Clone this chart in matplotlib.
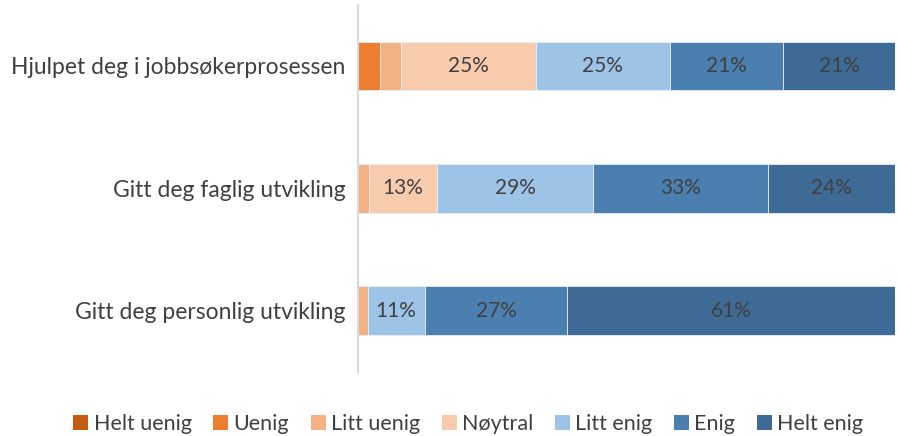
import numpy as np
import matplotlib.pyplot as plt
from matplotlib.patches import Patch

plt.rcParams['font.family'] = ['Lato', 'DejaVu Sans']

categories = ['Hjulpet deg i jobbsøkerprosessen',
              'Gitt deg faglig utvikling',
              'Gitt deg personlig utvikling']
levels = ['Helt uenig', 'Uenig', 'Litt uenig', 'Nøytral', 'Litt enig', 'Enig', 'Helt enig']
colors = ['#C55A11', '#ED7D31', '#F4B183', '#F8CBAD', '#9DC3E6', '#4A7FB0', '#3D6B95']

# percent per category, one list per level
helt_uenig = [0.0, 0.0, 0.0]
uenig = [4.1, 0.0, 0.0]
litt_uenig = [3.9, 2.0, 1.8]
noytral = [25.1, 12.8, 0.0]
litt_enig = [25.0, 28.9, 10.6]
enig = [21.0, 32.6, 26.6]
helt_enig = [20.9, 23.7, 61.0]

series = [helt_uenig, uenig, litt_uenig, noytral, litt_enig, enig, helt_enig]

fig = plt.figure(figsize=(8.97, 4.36), dpi=100)
ax = fig.add_axes([0.399, 0.147, 0.599, 0.842])

y = np.arange(len(categories))
left = np.zeros(len(categories))
for name, vals, col in zip(levels, series, colors):
    vals = np.array(vals)
    ax.barh(y, vals, left=left, height=0.4, color=col, edgecolor='#e8eef4',
            linewidth=0.6, label=name)
    for yi, (l, v) in enumerate(zip(left, vals)):
        if v >= 10:
            ax.text(l + v / 2, yi, f'{v:.0f}%', ha='center', va='center',
                    fontsize=15, color='#404040')
    left += vals

ax.set_xlim(0, 100)
ax.set_ylim(2.5, -0.5)
ax.set_yticks(y)
ax.set_yticklabels(categories, fontsize=16.5, color='#404040')
ax.tick_params(axis='y', length=0, pad=9)
ax.set_xticks([])
for s in ['top', 'right', 'bottom']:
    ax.spines[s].set_visible(False)
ax.spines['left'].set_color('#d9d9d9')
ax.spines['left'].set_linewidth(1.5)

handles = [Patch(facecolor=c, label=l) for l, c in zip(levels, colors)]
fig.legend(handles=handles, loc='center', bbox_to_anchor=(0.522, 0.028), ncol=7,
           frameon=False, fontsize=15.5, handlelength=0.7, handleheight=0.7,
           handletextpad=0.25, columnspacing=1.0, labelcolor='#404040')

fig.savefig('out.png', dpi=100)
